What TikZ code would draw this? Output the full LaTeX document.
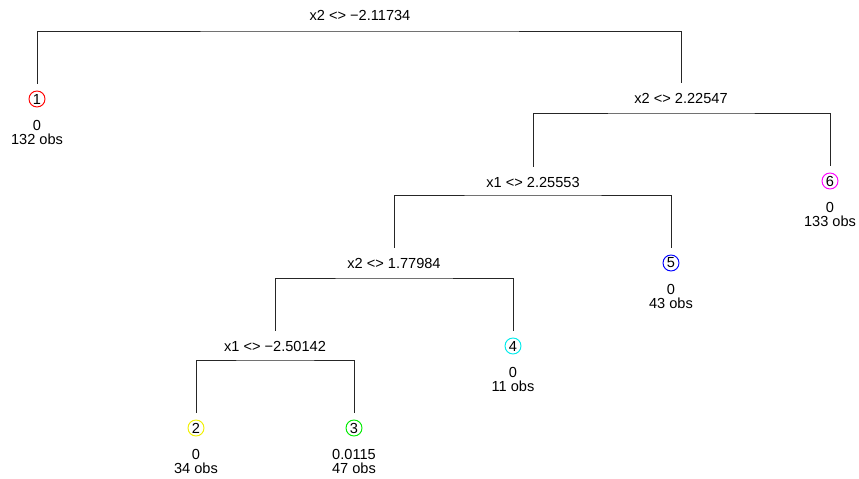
\documentclass[tikz,border=0pt]{standalone}
\usepackage{fontspec}
\setmainfont{Liberation Sans}
\usepackage{tikz}
\usetikzlibrary{calc,positioning}
\definecolor{rbred}{RGB}{255,0,0}
\definecolor{rbyellow}{RGB}{240,240,0}
\definecolor{rbgreen}{RGB}{0,235,0}
\definecolor{rbcyan}{RGB}{0,235,235}
\definecolor{rbblue}{RGB}{0,0,255}
\definecolor{rbmagenta}{RGB}{255,0,255}
\tikzstyle{edge}  =[line width=0.5pt, draw=black!85]
\tikzstyle{leaf}  =[circle, draw, minimum size=0.32cm,
                    line width=0.55pt, inner sep=0pt,
                    outer sep=0pt]
\tikzstyle{split} =[inner sep=0pt]
\tikzstyle{info}  =[inner sep=0pt, align=center]

\begin{document}
\begin{tikzpicture}[x=0.02cm, y=-0.02cm, node distance=0.67cm, on grid,
            every node/.style={font=\fontsize{8.3}{8.5}\selectfont}]
            \useasboundingbox (0,0) rectangle (859,479);
            % splits
            \node (s1) [split] at (360,15) {x2 <> −2.11734};
            \node (s2) [split] at (681,98) {x2 <> 2.22547};
            \node (s3) [split] at (533,182) {x1 <> 2.25553};
            \node (s4) [split] at (394,263) {x2 <> 1.77984};
            \node (s5) [split] at (275,346) {x1 <> −2.50142};
            % leaves
            \node (n1) [leaf, draw=rbred] at (37,99) {1};
            \node (n2) [leaf, draw=rbyellow] at (196,428) {2};
            \node (n3) [leaf, draw=rbgreen] at (354,428) {3};
            \node (n4) [leaf, draw=rbcyan] at (513,346) {4};
            \node (n5) [leaf, draw=rbblue] at (671,263) {5};
            \node (n6) [leaf, draw=rbmagenta] at (830,181) {6};
            \node (i1) [info, below=of n1] {0\\132 obs};
            \node (i2) [info, below=of n2] {0\\34 obs};
            \node (i3) [info, below=of n3] {0.0115\\47 obs};
            \node (i4) [info, below=of n4] {0\\11 obs};
            \node (i5) [info, below=of n5] {0\\43 obs};
            \node (i6) [info, below=of n6] {0\\133 obs};
            % branches
            \draw[edge] ($(n1)+(0,-15)$) |- ($(s1)+(0,16)$) -| ($(s2)+(0,-15)$);
            \draw[edge] ($(s3)+(0,-15)$) |- ($(s2)+(0,15)$) -| ($(n6)+(0,-15)$);
            \draw[edge] ($(s4)+(0,-15)$) |- ($(s3)+(0,13)$) -| ($(n5)+(0,-15)$);
            \draw[edge] ($(s5)+(0,-15)$) |- ($(s4)+(0,15)$) -| ($(n4)+(0,-15)$);
            \draw[edge] ($(n2)+(0,-15)$) |- ($(s5)+(0,14)$) -| ($(n3)+(0,-15)$);
        \end{tikzpicture}
\end{document}
